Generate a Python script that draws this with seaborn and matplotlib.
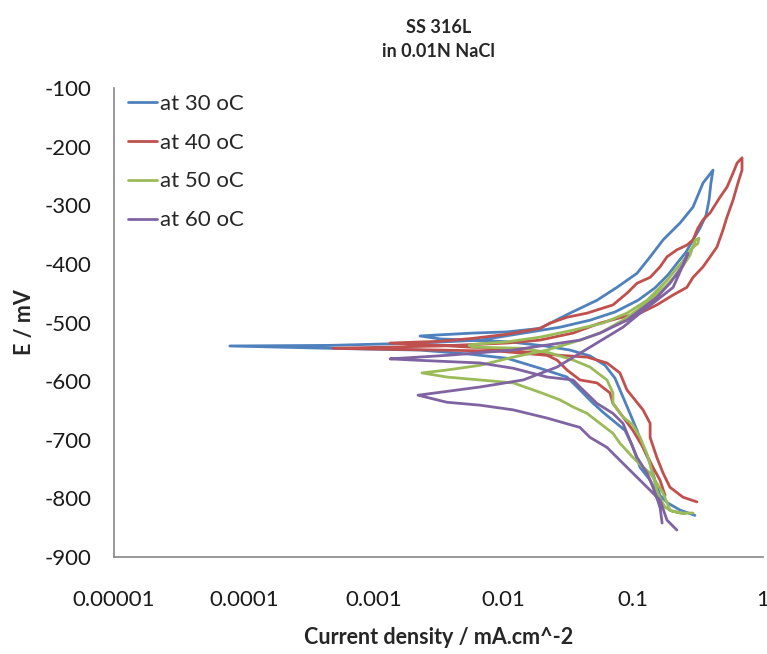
import matplotlib
matplotlib.use("Agg")
import matplotlib.pyplot as plt
import seaborn as sns
import pandas as pd

# Cyclic polarisation scans of SS 316L in 0.01N NaCl: (current density mA/cm^2, potential mV)
scan_30C = [
    (0.299, -829), (0.230, -820), (0.185, -808), (0.161, -795), (0.147, -769), (0.135, -740),
    (0.119, -713), (0.107, -684), (0.0944, -655), (0.0834, -627), (0.0724, -595), (0.0607, -573),
    (0.0465, -557), (0.0326, -547), (0.0209, -540), (0.0112, -533), (0.00553, -530), (0.00325, -528),
    (0.00228, -523), (0.00325, -521), (0.00583, -518), (0.01067, -516), (0.0191, -510), (0.0326, -484),
    (0.0526, -462), (0.0750, -440), (0.107, -416), (0.135, -388), (0.170, -359), (0.230, -330),
    (0.289, -303), (0.345, -262), (0.412, -240),
    (0.397, -262), (0.384, -291), (0.364, -317), (0.327, -339), (0.289, -359), (0.255, -380),
    (0.221, -397), (0.185, -419), (0.147, -441), (0.109, -462), (0.0724, -482), (0.0465, -496),
    (0.0273, -508), (0.0134, -519), (0.0066, -530), (0.00228, -535), (0.00046, -539), (0.000078, -540),
    (0.00046, -544), (0.00228, -547), (0.00553, -554), (0.01067, -561), (0.0191, -578), (0.0309, -593),
    (0.0410, -620), (0.0482, -636), (0.0585, -653), (0.0698, -667), (0.0865, -684), (0.098, -709),
    (0.113, -747), (0.135, -769), (0.152, -791), (0.161, -815),
]

scan_40C = [
    (0.310, -806), (0.242, -798), (0.192, -781), (0.170, -757), (0.152, -730), (0.135, -696),
    (0.135, -672), (0.119, -649), (0.0895, -615), (0.0790, -586), (0.0628, -569), (0.0441, -559),
    (0.0273, -556), (0.0160, -551), (0.00788, -544), (0.00325, -539), (0.00134, -535),
    (0.00325, -532), (0.00583, -527), (0.01067, -520), (0.0191, -510), (0.0229, -501), (0.0309, -491),
    (0.0441, -484), (0.0698, -470), (0.0895, -450), (0.107, -433), (0.135, -423), (0.161, -405),
    (0.182, -388), (0.217, -376), (0.259, -368), (0.289, -359), (0.315, -339), (0.345, -325),
    (0.391, -313), (0.467, -286), (0.528, -269), (0.588, -245), (0.631, -228), (0.689, -219),
    (0.689, -240), (0.641, -262), (0.588, -291), (0.528, -320), (0.492, -342), (0.442, -371),
    (0.391, -388), (0.345, -405), (0.289, -423), (0.259, -440), (0.203, -453), (0.152, -470),
    (0.113, -484), (0.0790, -492), (0.0555, -501), (0.0344, -518), (0.0191, -530), (0.01067, -535),
    (0.00325, -540), (0.000486, -544),
    (0.00325, -547), (0.0094, -549), (0.0217, -556), (0.0259, -564), (0.0309, -581), (0.0389, -598),
    (0.0526, -603), (0.0662, -620), (0.0698, -638), (0.0834, -661), (0.0995, -684), (0.119, -713),
    (0.142, -747), (0.161, -769), (0.176, -795),
]

scan_50C = [
    (0.289, -825), (0.230, -825), (0.192, -820), (0.170, -791), (0.152, -774), (0.135, -757),
    (0.119, -747), (0.0995, -730), (0.0790, -706), (0.0698, -689), (0.0555, -672), (0.0441, -655),
    (0.0344, -644), (0.0273, -632), (0.0191, -619), (0.0119, -603), (0.0066, -598), (0.00367, -593),
    (0.00236, -586),
    (0.00367, -581), (0.0066, -573), (0.0119, -559), (0.0217, -547), (0.0389, -530), (0.0555, -518),
    (0.0834, -496), (0.128, -467), (0.182, -436), (0.230, -411), (0.274, -385), (0.300, -360),
    (0.321, -356), (0.315, -365),
    (0.284, -373), (0.238, -397), (0.182, -428), (0.161, -440), (0.128, -462), (0.0895, -484),
    (0.0585, -501), (0.0344, -513), (0.0191, -525), (0.01067, -533), (0.00604, -537), (0.00543, -539),
    (0.00583, -542), (0.0142, -544), (0.0229, -552), (0.0344, -564), (0.0465, -576), (0.0628, -598),
    (0.0698, -620), (0.0698, -638), (0.0834, -661), (0.0995, -675), (0.113, -696), (0.128, -725),
    (0.142, -760), (0.152, -786), (0.161, -800), (0.176, -815), (0.199, -822), (0.251, -826),
]

scan_60C = [
    (0.167, -842), (0.161, -815), (0.142, -781), (0.128, -757), (0.107, -730), (0.0944, -701),
    (0.0834, -672), (0.0698, -655), (0.0526, -638), (0.0389, -610), (0.0344, -598), (0.0217, -593),
    (0.0119, -578), (0.0066, -569), (0.00201, -564), (0.00134, -562),
    (0.00367, -556), (0.0119, -547), (0.0389, -530), (0.0555, -518), (0.0895, -496), (0.152, -457),
    (0.192, -433), (0.242, -402), (0.264, -382),
    (0.251, -394), (0.203, -440), (0.152, -462), (0.113, -484), (0.0834, -508), (0.0465, -542),
    (0.0259, -576), (0.0142, -598), (0.0066, -610), (0.00220, -624),
    (0.00367, -636), (0.0066, -641), (0.0119, -649), (0.0217, -663), (0.0389, -679), (0.0465, -696),
    (0.0628, -713), (0.0790, -735), (0.0995, -757), (0.128, -781), (0.161, -803), (0.182, -837),
    (0.217, -854),
]

series_labels = ["at 30 oC", "at 40 oC", "at 50 oC", "at 60 oC"]
series_scans = [scan_30C, scan_40C, scan_50C, scan_60C]
series_colors = ["#4F81BD", "#C0504D", "#9BBB59", "#8064A2"]

x_ticks = [1e-5, 1e-4, 1e-3, 1e-2, 1e-1, 1]
x_tick_labels = ["0.00001", "0.0001", "0.001", "0.01", "0.1", "1"]
y_ticks = list(range(-900, 0, 100))
y_tick_labels = [str(v) for v in y_ticks]

sns.set_theme(style="white")
plt.rcParams["font.family"] = ["Lato", "DejaVu Sans"]
plt.rcParams["axes.unicode_minus"] = False

fig = plt.figure(figsize=(7.67, 6.54), dpi=100)
ax = fig.add_axes([0.1486, 0.1483, 0.8462, 0.7171])
ax.set_xscale("log")

for label, scan, color in zip(series_labels, series_scans, series_colors):
    df = pd.DataFrame(scan, columns=["current", "potential"])
    sns.lineplot(data=df, x="current", y="potential", sort=False, estimator=None,
                 color=color, linewidth=2.0, label=label, ax=ax)

ax.set_xlim(1e-5, 1)
ax.set_ylim(-900, -100)
ax.set_xticks(x_ticks)
ax.set_xticklabels(x_tick_labels)
ax.minorticks_off()
ax.set_yticks(y_ticks)
ax.set_yticklabels(y_tick_labels)
ax.tick_params(axis="both", length=0, labelsize=16, colors="#1a1a1a")
ax.tick_params(axis="x", pad=24)
ax.tick_params(axis="y", pad=16)

for side in ["top", "right"]:
    ax.spines[side].set_visible(False)
for side in ["left", "bottom"]:
    ax.spines[side].set_color("#868686")
    ax.spines[side].set_linewidth(1.2)

ax.set_xlabel("Current density / mA.cm^-2", fontsize=15.5, fontweight="bold", labelpad=12)
ax.set_ylabel("E / mV", fontsize=15.5, fontweight="bold", labelpad=7)
ax.set_title("SS 316L\nin 0.01N NaCl", fontsize=13, fontweight="bold", pad=22, linespacing=1.55)

ax.legend(loc="upper left", bbox_to_anchor=(0.022, 0.988), frameon=False, fontsize=16,
          handlelength=1.3, handletextpad=0.15, labelspacing=0.85, borderpad=0, borderaxespad=0)

fig.savefig("out.png", dpi=100, facecolor="white")
